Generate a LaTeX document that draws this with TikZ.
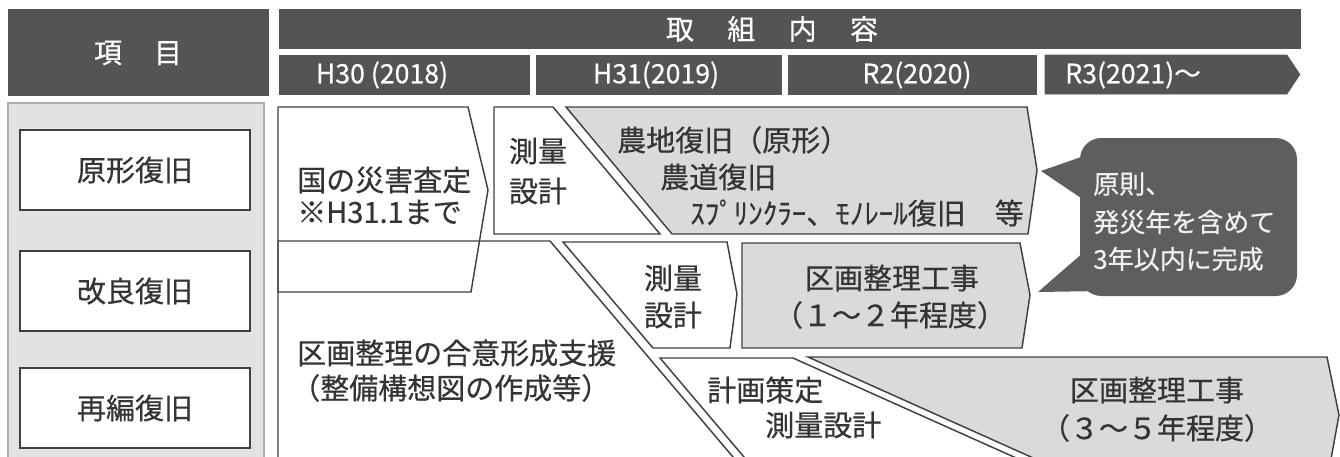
\documentclass[tikz,border=0pt]{standalone}
\usepackage{fontspec}
\setmainfont{Noto Sans CJK JP}
\newfontfamily\heavyjp{Noto Sans CJK JP}[FakeBold=0.5]
\usepackage{tikz}
\usepackage{xcolor}

\definecolor{hdgray}{RGB}{84,84,84}
\definecolor{panelgray}{RGB}{226,226,226}
\definecolor{shadegray}{RGB}{218,218,218}
\definecolor{linegray}{RGB}{64,64,64}
\definecolor{txtgray}{RGB}{52,52,52}
\definecolor{callgray}{RGB}{94,94,94}

\tikzset{
  hdfill/.style={fill=hdgray, draw=hdgray},
  panelfill/.style={fill=panelgray, draw={rgb,255:red,176;green,176;blue,176}, line width=0.8pt},
  stepbox/.style={draw=linegray, line width=1.1pt, fill=white, line join=miter},
  workbox/.style={stepbox, fill=shadegray},
  lbl/.style={inner sep=0pt, text=txtgray, font=\heavyjp\fontsize{21.75}{26}\selectfont},
  itembox/.style={lbl, draw=linegray, fill=white, line width=1pt, minimum width=172.5pt, minimum height=60pt},
  hdtext/.style={inner sep=0pt, text=white, font=\heavyjp\fontsize{21}{24}\selectfont},
  yrtext/.style={inner sep=0pt, text=white, font=\heavyjp\fontsize{20}{24}\selectfont},
  calltext/.style={inner sep=0pt, text={rgb,255:red,240;green,240;blue,240}, font=\heavyjp\fontsize{19.5}{24}\selectfont}
}

\begin{document}
\begin{tikzpicture}[x=0.75pt,y=0.75pt,yscale=-1,xscale=1]
\useasboundingbox (0,0) rectangle (1340,457);
\clip (0,0) rectangle (1340,457);

%Shape: Rectangle [id:hd_item]
\draw [hdfill] (8,9) -- (268,9) -- (268,95) -- (8,95) -- cycle ;
%Shape: Rectangle [id:hd_naiyou]
\draw [hdfill] (279,9) -- (1300,9) -- (1300,48) -- (279,48) -- cycle ;
%Shape: Rectangle [id:hd_h30]
\draw [hdfill] (279,55) -- (529,55) -- (529,94) -- (279,94) -- cycle ;
%Shape: Rectangle [id:hd_h31]
\draw [hdfill] (536,55) -- (781,55) -- (781,94) -- (536,94) -- cycle ;
%Shape: Rectangle [id:hd_r2]
\draw [hdfill] (788,55) -- (1036,55) -- (1036,94) -- (788,94) -- cycle ;
%Shape: Pentagon [id:hd_r3]
\draw [hdfill] (1045,55) -- (1287,55) -- (1300,74.5) -- (1287,94) -- (1045,94) -- cycle ;

%Shape: Rectangle [id:panel]
\draw [panelfill] (8,103) -- (264,103) -- (264,470) -- (8,470) -- cycle ;

%Shape: Trapezoid [id:goui]
\draw [stepbox] (278,241) -- (550,241) -- (744,470) -- (278,470) -- cycle ;
%Shape: Pentagon [id:kuni]
\draw [stepbox, fill=none] (278,107) -- (468,107) -- (488,190) -- (471,292) -- (278,292) -- cycle ;
%Shape: Trapezoid [id:sokuryo1]
\draw [stepbox] (494,107) -- (553,107) -- (660,234) -- (494,234) -- cycle ;
%Shape: Pentagon [id:nochi]
\draw [workbox] (566,107) -- (1027,107) -- (1037,170) -- (1028,234) -- (672,234) -- cycle ;
%Shape: Pentagon [id:sokuryo2]
\draw [stepbox] (563,242) -- (727,242) -- (737,294) -- (730,348) -- (653,348) -- cycle ;
%Shape: Pentagon [id:kukaku1]
\draw [workbox] (742,243) -- (1020,243) -- (1030,295) -- (1022,348) -- (742,348) -- cycle ;
%Shape: Trapezoid [id:keikaku]
\draw [stepbox] (660,358) -- (793,358) -- (1043,470) -- (755,470) -- cycle ;
%Shape: Pentagon [id:kukaku2]
\draw [workbox] (808,357) -- (1327,357) -- (1339,415) -- (1329,470) -- (1060,470) -- cycle ;

%Shape: Callout [id:gensoku]
\fill [callgray, rounded corners=16pt] (1080,138) rectangle (1297,296) ;
\fill [callgray] (1084,156) -- (1041,171) -- (1084,200) -- cycle ;
\fill [callgray] (1084,252) -- (1038,292) -- (1102,291) -- cycle ;

% Text Node
\draw (138,53) node [hdtext] (koumoku) {項\hspace{24pt}目};
% Text Node
\draw (772,29) node [hdtext] (torikumi) {取\hspace{25pt}組\hspace{25pt}内\hspace{25pt}容};
% Text Node
\draw (382,75) node [yrtext] (yh30) {H30 (2018)};
% Text Node
\draw (656,75) node [yrtext] (yh31) {H31(2019)};
% Text Node
\draw (917,75) node [yrtext] (yr2) {R2(2020)};
% Text Node
\draw (1065,75) node [anchor=west] [yrtext] (yr3) {R3(2021)～};

% Text Node
\draw (135,170) node [itembox] (genkei) {原形復旧};
% Text Node
\draw (135,291) node [itembox] (kairyou) {改良復旧};
% Text Node
\draw (135,408) node [itembox] (saihen) {再編復旧};

% Text Node
\draw (297,180) node [anchor=west] [lbl] (kunisatei) {国の災害査定};
% Text Node
\draw (297,212) node [anchor=west] [lbl] (kunimade) {※H31.1まで};
% Text Node
\draw (538,151) node [lbl] (soku1a) {測量};
% Text Node
\draw (538,191) node [lbl] (soku1b) {設計};
% Text Node
\draw (617,140) node [anchor=west] [lbl] (nochitxt) {農地復旧（原形）};
% Text Node
\draw (660,177) node [anchor=west] [lbl] (noudou) {農道復旧};
% Text Node
\draw (690,213) node [anchor=west] [lbl] (sprink) {ｽﾌﾟﾘﾝｸﾗｰ、ﾓﾉﾚｰﾙ復旧　等};
% Text Node
\draw (673,278) node [lbl] (soku2a) {測量};
% Text Node
\draw (673,315) node [lbl] (soku2b) {設計};
% Text Node
\draw (892,278) node [lbl] (kukaku1a) {区画整理工事};
% Text Node
\draw (890,315) node [lbl] (kukaku1b) {（１～２年程度）};
% Text Node
\draw (297,353) node [anchor=west] [lbl] (gouia) {区画整理の合意形成支援};
% Text Node
\draw (291,388) node [anchor=west] [lbl] (gouib) {（整備構想図の作成等）};
% Text Node
\draw (707,390) node [anchor=west] [lbl] (keikakua) {計画策定};
% Text Node
\draw (765,425) node [anchor=west] [lbl] (keikakub) {測量設計};
% Text Node
\draw (1157,390) node [lbl] (kukaku2a) {区画整理工事};
% Text Node
\draw (1157,428) node [lbl] (kukaku2b) {（３～５年程度）};

% Text Node
\draw (1093,184) node [anchor=west] [calltext] (callA) {原則、};
% Text Node
\draw (1093,222) node [anchor=west] [calltext] (callB) {発災年を含めて};
% Text Node
\draw (1093,259) node [anchor=west] [calltext] (callC) {3年以内に完成};
\end{tikzpicture}
\end{document}
